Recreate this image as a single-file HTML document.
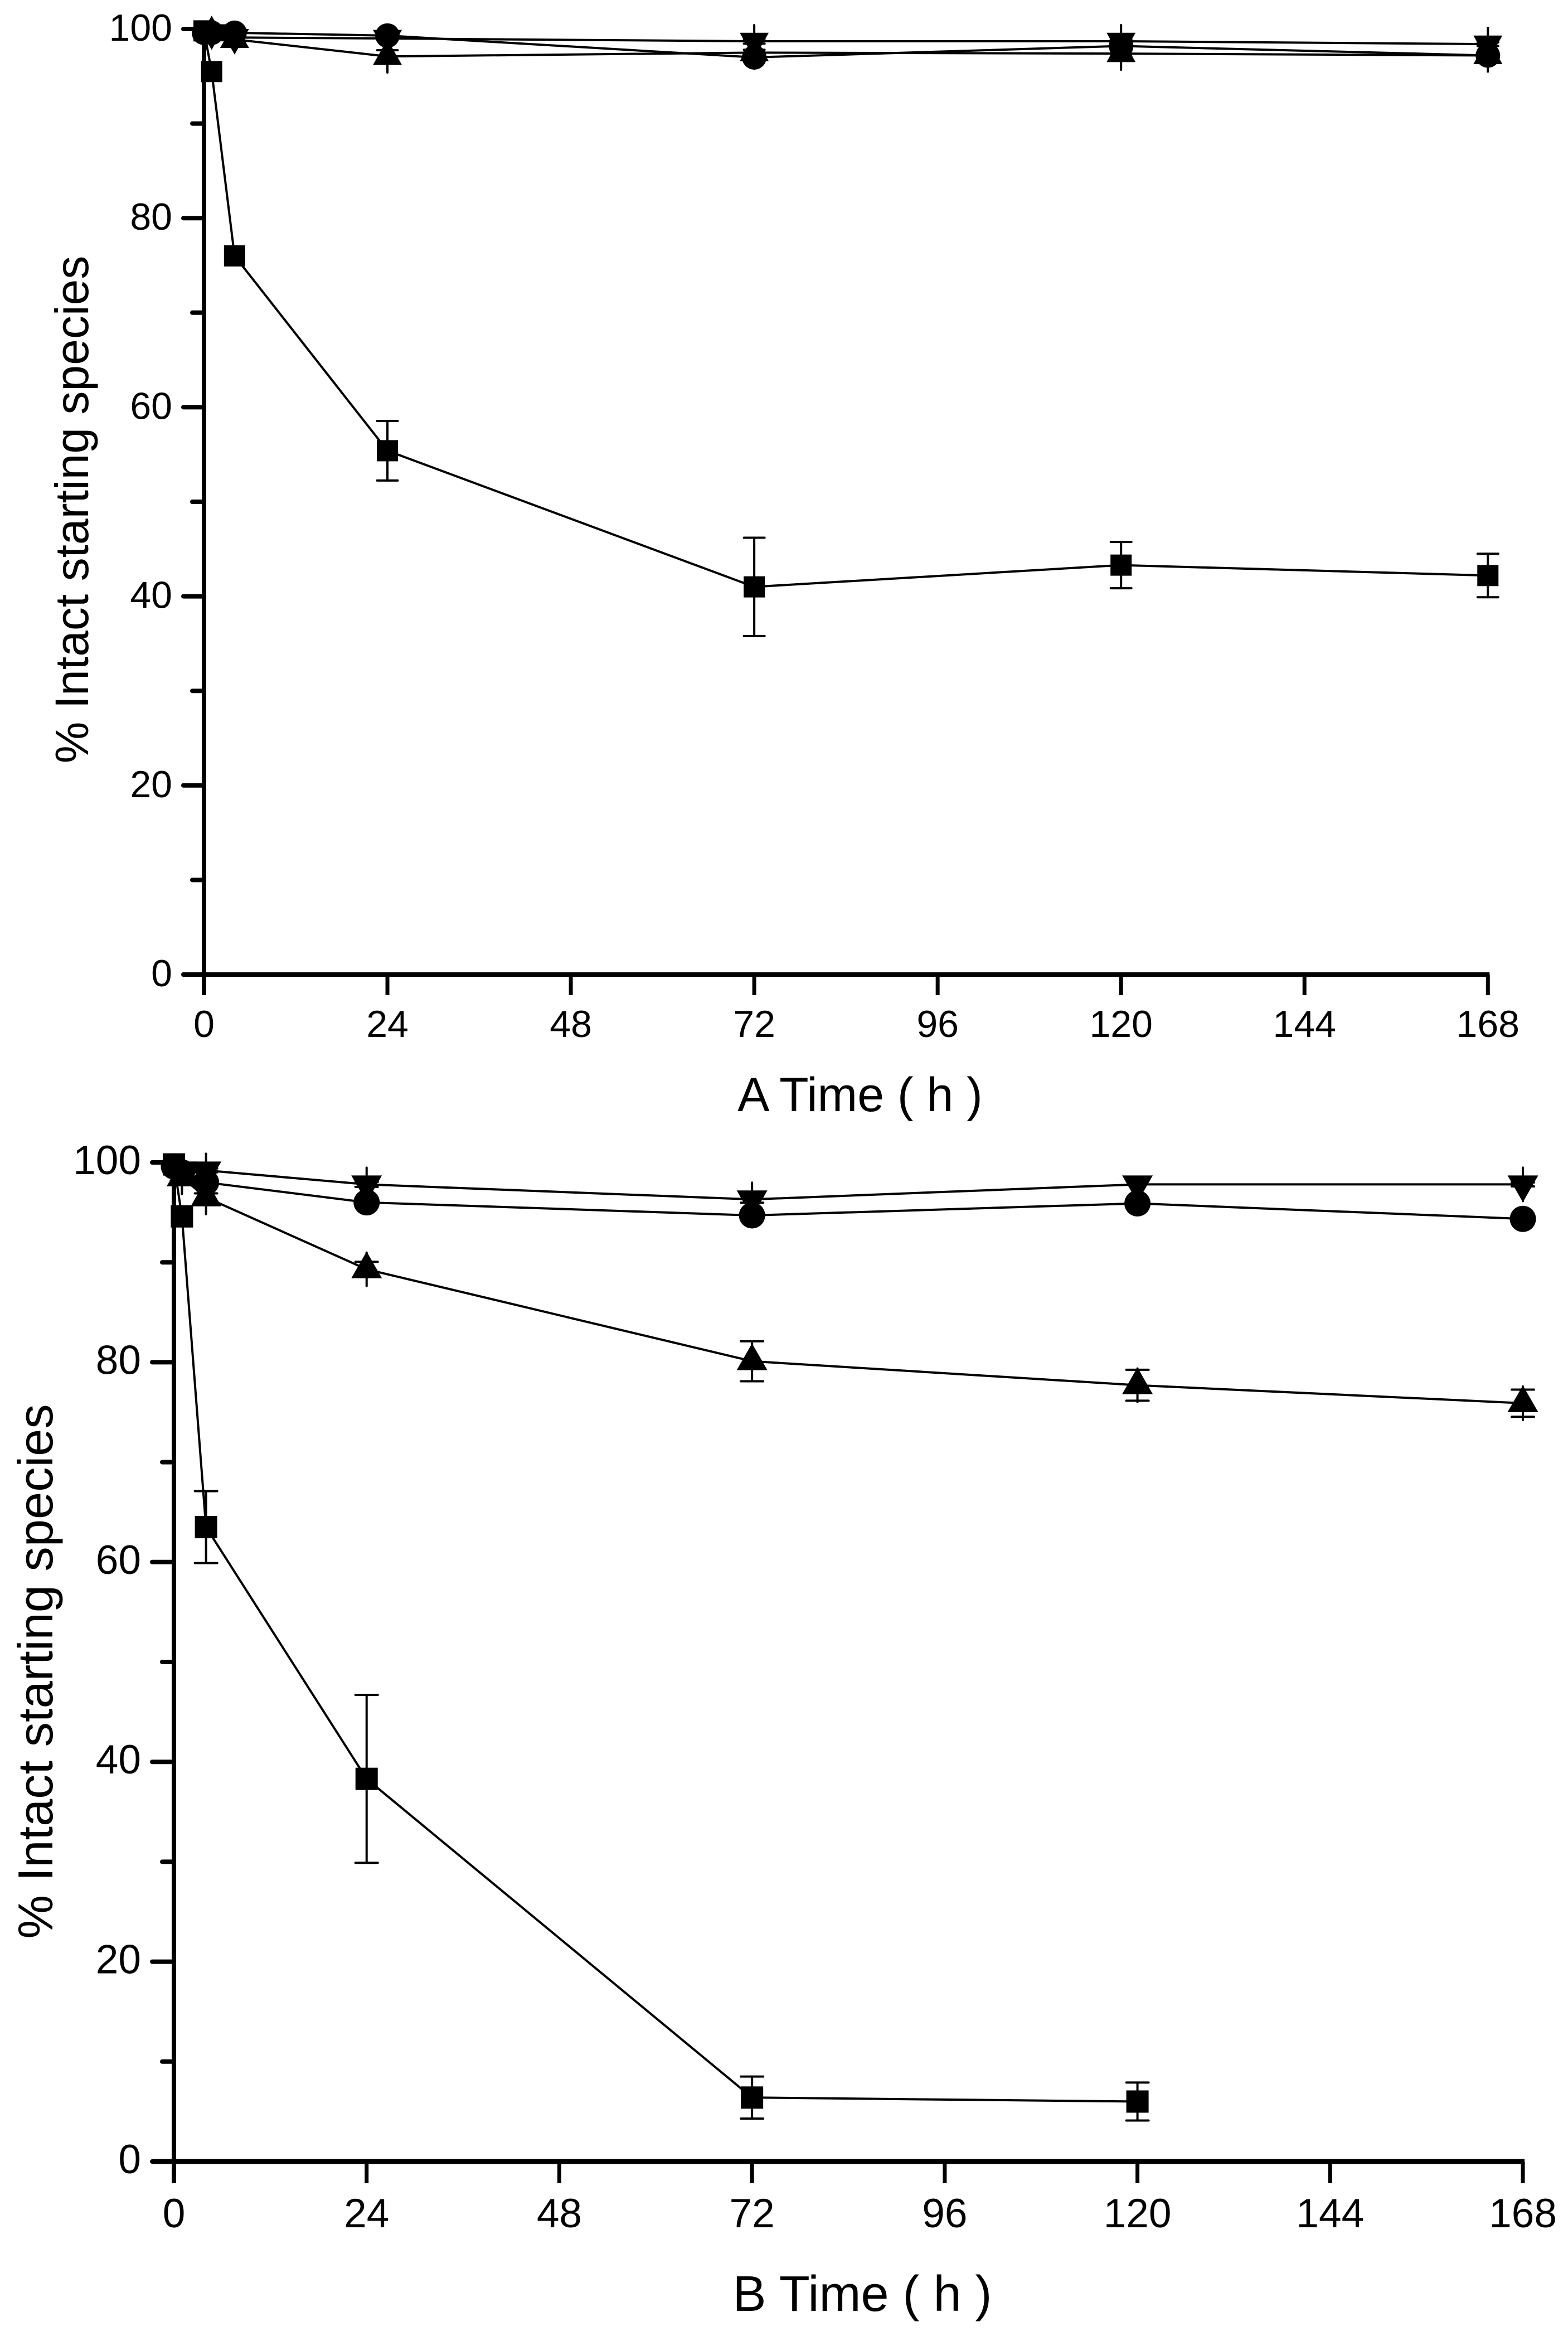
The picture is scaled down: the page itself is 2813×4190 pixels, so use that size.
<!DOCTYPE html>
<html lang="en">
<head>
<meta charset="utf-8">
<title>% Intact starting species over time</title>
<style>
  html, body { margin: 0; padding: 0; background: #fff; }
  svg { display: block; font-family: "Liberation Sans", Arial, sans-serif; }
</style>
</head>
<body>
<svg id="figure" xmlns="http://www.w3.org/2000/svg" width="2813" height="4190" viewBox="0 0 2813 4190">
  <rect x="0" y="0" width="2813" height="4190" fill="#fff"/>
</svg>
<script>
// ---- Shared axis data ----
const xTickLabels = [0, 24, 48, 72, 96, 120, 144, 168];
const yTickLabels = [0, 20, 40, 60, 80, 100];
const yMinorTicks = [10, 30, 50, 70, 90];
const timesHours = [0, 1, 4, 24, 72, 120, 168];

// ---- Panel A data (% intact; null = no point) ----
const squareA = [99.8, 95.5, 76, 55.4, 41, 43.3, 42.2];
const squareErrA = [0, 0, 0, 3.15, 5.2, 2.45, 2.3];
const circleA = [99.6, 99.6, 99.6, 99.3, 97, 98.2, 97.2];
const upTriangleA = [null, 99.6, 98.9, 97.1, 97.5, 97.4, 97.2];
const upTriangleErrA = [0, 0, 0, 0.65, 0.3, 0.3, 0.3];
const downTriangleA = [null, 99.6, 99.1, 99, 98.7, 98.7, 98.4];
const downTriangleErrA = [0, 0, 0, 0, 0.25, 0.2, 0.2];

// ---- Panel B data (% intact; null = no point) ----
const squareB = [99.8, 94.6, 63.5, 38.3, 6.4, 6];
const squareErrB = [0, 0, 3.6, 8.4, 2.1, 1.9];
const circleB = [99.6, 99, 98, 96, 94.7, 95.9, 94.35];
const upTriangleB = [null, 98.5, 96.5, 89.3, 80.1, 77.7, 75.9];
const upTriangleErrB = [0, 0.3, 0.4, 0.75, 2, 1.55, 1.36];
const downTriangleB = [null, 99.2, 99.2, 97.8, 96.3, 97.8, 97.8];
const downTriangleErrB = [0, 0, 0.2, 0.25, 0.33, 0, 0.2];

const NS = 'http://www.w3.org/2000/svg';
const figure = document.getElementById('figure');

function make(parent, tag, attrs, text) {
  const el = document.createElementNS(NS, tag);
  for (const k in attrs) el.setAttribute(k, attrs[k]);
  if (text !== undefined) el.textContent = text;
  parent.appendChild(el);
  return el;
}

function drawPanel(cfg) {
  const xScale = v => cfg.x0 + v * cfg.xUnit;
  const yScale = v => cfg.y0 - v * cfg.yUnit;

  const panel = make(figure, 'g', {});
  
  

  // Series lines, whiskers and markers
  cfg.series.forEach(s => {
    const group = make(panel, 'g', {});
    
    

    const pts = [];
    s.values.forEach((v, i) => {
      if (v !== null) pts.push(xScale(timesHours[i]).toFixed(1) + ',' + yScale(v).toFixed(1));
    });
    const line = make(group, 'polyline', { points: pts.join(' '), fill: 'none', stroke: '#000', 'stroke-width': 4, 'stroke-linejoin': 'round' });
    
    

    s.values.forEach((v, i) => {
      if (v === null) return;
      const cx = xScale(timesHours[i]);
      const cy = yScale(v);
      const e = s.err ? s.err[i] : 0;
      if (e > 0) {
        const capOffset = e * cfg.yUnit;
        const stemOffset = s.stem ? Math.max(capOffset, cfg.stem) : capOffset;
        const bar = make(group, 'line', { x1: cx, x2: cx, y1: cy - stemOffset, y2: cy + stemOffset, stroke: '#000', 'stroke-width': 4, 'stroke-linecap': 'round' });
        
        
        [-1, 1].forEach(dir => {
          const capY = cy + dir * capOffset;
          const cap = make(group, 'line', { x1: cx - cfg.capHalf, x2: cx + cfg.capHalf, y1: capY, y2: capY, stroke: '#000', 'stroke-width': 4, 'stroke-linecap': 'round' });
          
          
        });
      }
      const m = cfg.marker;
      let mark;
      if (s.shape === 'square') {
        mark = make(group, 'rect', { x: cx - m.square / 2, y: cy - m.square / 2, width: m.square, height: m.square, fill: '#000' });
      } else if (s.shape === 'circle') {
        mark = make(group, 'circle', { cx: cx, cy: cy, r: m.circle / 2, fill: '#000' });
      } else if (s.shape === 'up') {
        mark = make(group, 'polygon', { points: (cx) + ',' + (cy - m.triH * 2 / 3) + ' ' + (cx - m.triW / 2) + ',' + (cy + m.triH / 3) + ' ' + (cx + m.triW / 2) + ',' + (cy + m.triH / 3), fill: '#000' });
      } else {
        mark = make(group, 'polygon', { points: (cx) + ',' + (cy + m.triH * 2 / 3) + ' ' + (cx - m.triW / 2) + ',' + (cy - m.triH / 3) + ' ' + (cx + m.triW / 2) + ',' + (cy - m.triH / 3), fill: '#000' });
      }
      
      
    });
  });

  // Axes
  const yAxis = make(panel, 'line', { x1: cfg.x0, x2: cfg.x0, y1: yScale(100), y2: cfg.y0 + cfg.majorLen, stroke: '#000', 'stroke-width': 8 });
  
  

  const xAxis = make(panel, 'line', { x1: cfg.x0 - cfg.majorLen, x2: xScale(168) + 3, y1: cfg.y0, y2: cfg.y0, stroke: '#000', 'stroke-width': cfg.xAxisWidth });
  
  

  yTickLabels.forEach(v => {
    const y = yScale(v);
    const tick = make(panel, 'line', { x1: cfg.x0 - cfg.majorLen, x2: cfg.x0, y1: y, y2: y, stroke: '#000', 'stroke-width': 8, 'stroke-linecap': 'round' });
    
    
    const label = make(panel, 'text', { x: cfg.yLabelX, y: y + cfg.yLabelDy, 'text-anchor': 'end', 'font-size': cfg.tickFont, fill: '#000' }, String(v));
    
    
  });
  yMinorTicks.forEach(v => {
    const y = yScale(v);
    const tick = make(panel, 'line', { x1: cfg.x0 - 21, x2: cfg.x0, y1: y, y2: y, stroke: '#000', 'stroke-width': 8, 'stroke-linecap': 'round' });
    
    
  });
  xTickLabels.forEach(v => {
    const x = xScale(v);
    const tick = make(panel, 'line', { x1: x, x2: x, y1: cfg.y0, y2: cfg.y0 + cfg.majorLen, stroke: '#000', 'stroke-width': 7 });
    
    
    const label = make(panel, 'text', { x: x, y: cfg.y0 + cfg.xLabelDy, 'text-anchor': 'middle', 'font-size': cfg.tickFont, fill: '#000' }, String(v));
    
    
  });

  // Titles
  const xTitle = make(panel, 'text', { x: cfg.xTitleX, y: cfg.xTitleY, 'text-anchor': 'middle', 'font-size': cfg.xTitleFont, fill: '#000' }, cfg.xTitle);
  
  

  const yTitle = make(panel, 'text', { transform: 'translate(' + cfg.yTitleX + ',' + cfg.yTitleY + ') rotate(-90)', 'text-anchor': 'middle', 'font-size': cfg.yTitleFont, fill: '#000' }, '% Intact starting species');
  
  
}

drawPanel({
  id: 'a', x0: 366, xUnit: 13.71, y0: 1748, yUnit: 16.96,
  majorLen: 37, xAxisWidth: 8, tickFont: 68, xTitleFont: 86, yTitleFont: 84,
  yLabelX: 309, yLabelDy: 21, xLabelDy: 112,
  xTitle: 'A Time ( h )', xTitleX: 1543, xTitleY: 1993,
  yTitleX: 158, yTitleY: 914,
  stem: 29, capHalf: 18.5,
  marker: { square: 38, circle: 44, triW: 52, triH: 46 },
  series: [
    { name: 'square', shape: 'square', values: squareA, err: squareErrA },
    { name: 'circle', shape: 'circle', values: circleA },
    { name: 'up-triangle', shape: 'up', values: upTriangleA, err: upTriangleErrA, stem: true },
    { name: 'down-triangle', shape: 'down', values: downTriangleA, err: downTriangleErrA, stem: true }
  ]
});

drawPanel({
  id: 'b', x0: 312, xUnit: 14.405, y0: 3877, yUnit: 17.92,
  majorLen: 39, xAxisWidth: 9, tickFont: 73, xTitleFont: 90, yTitleFont: 88.5,
  yLabelX: 253, yLabelDy: 21, xLabelDy: 118,
  xTitle: 'B Time ( h )', xTitleX: 1547, xTitleY: 4145,
  yTitleX: 94, yTitleY: 2998,
  stem: 30, capHalf: 20,
  marker: { square: 40, circle: 47, triW: 55, triH: 48 },
  series: [
    { name: 'square', shape: 'square', values: squareB, err: squareErrB },
    { name: 'circle', shape: 'circle', values: circleB },
    { name: 'up-triangle', shape: 'up', values: upTriangleB, err: upTriangleErrB, stem: true },
    { name: 'down-triangle', shape: 'down', values: downTriangleB, err: downTriangleErrB, stem: true }
  ]
});
</script>
</body>
</html>
